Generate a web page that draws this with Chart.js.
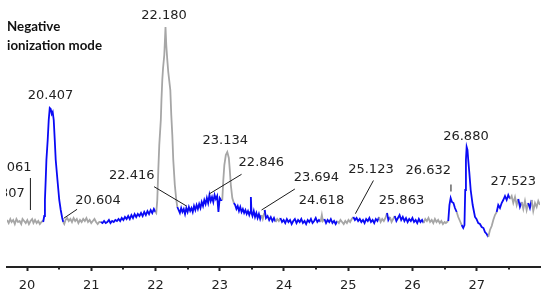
<!DOCTYPE html>
<html><head><meta charset="utf-8">
<script src="https://cdn.jsdelivr.net/npm/chart.js@4"></script>
<style>html,body{margin:0;padding:0;background:#fff;overflow:hidden}</style>
</head><body>
<canvas id="c" width="550" height="297" style="width:550px;height:297px;display:block"></canvas>
<script>
// ---- axis ----
const xRange = [19.6885, 27.986];
const yRange = [-45, 222];
const xTicks = [20, 21, 22, 23, 24, 25, 26, 27];
const xMinorTicks = [20.5, 21.5, 22.5, 23.5, 24.5, 25.5, 26.5, 27.5];

// ---- trace: [retention time (min), intensity] ----
const segA = [[19.69,2],[19.715,-1],[19.74,3],[19.76,0],[19.785,2],[19.81,-2],[19.835,3],[19.86,0],[19.885,1],[19.91,-2],[19.93,3],[19.955,1],[19.98,-1],[20.005,2],[20.03,-2],[20.055,1],[20.08,3],[20.10,-1],[20.125,2],[20.15,-1],[20.175,1],[20.20,-2],[20.225,0],[20.245,1]];
const segPeak1 = [[20.252,0],[20.268,6],[20.279,22],[20.291,42],[20.302,62],[20.322,82],[20.338,102],[20.354,114],[20.369,113],[20.385,108],[20.400,110],[20.416,102],[20.432,82],[20.447,62],[20.474,42],[20.502,22],[20.525,12],[20.548,4],[20.564,0]];
const segB = [[20.58,-2],[20.60,2],[20.625,4],[20.65,1],[20.675,3],[20.70,0],[20.725,4],[20.75,1],[20.775,3],[20.80,-1],[20.825,2],[20.85,0],[20.875,3],[20.90,1],[20.925,4],[20.95,0],[20.975,2],[21.00,-1],[21.025,1],[21.05,3],[21.075,0],[21.10,-2],[21.125,0]];
const segC = [[21.15,0],[21.175,-1],[21.20,1],[21.225,-1],[21.25,0],[21.275,2],[21.30,-1],[21.325,1],[21.35,0],[21.375,2],[21.40,1],[21.425,3],[21.45,1],[21.475,4],[21.50,2],[21.525,5],[21.55,3],[21.575,6],[21.60,3],[21.625,7],[21.65,4],[21.675,8],[21.70,5],[21.725,8],[21.75,6],[21.775,9],[21.80,6],[21.825,10],[21.85,7],[21.875,11],[21.90,8],[21.925,12],[21.95,9],[21.975,13],[22.00,10]];
const segPeak2 = [[22.012,9],[22.028,22],[22.044,52],[22.059,77],[22.083,102],[22.093,122],[22.106,142],[22.118,154],[22.137,167],[22.156,195],[22.168,177],[22.184,162],[22.199,150],[22.231,132],[22.246,107],[22.262,87],[22.277,62],[22.301,37],[22.324,22],[22.340,15]];
const segE = [[22.36,12],[22.38,9],[22.40,14],[22.42,10],[22.44,13],[22.46,8],[22.48,14],[22.50,10],[22.52,15],[22.54,11],[22.56,14],[22.58,10],[22.60,16],[22.62,12],[22.64,17],[22.66,13],[22.68,18],[22.70,14],[22.72,20],[22.74,16],[22.76,22],[22.78,18],[22.80,24],[22.82,19],[22.84,27],[22.86,21],[22.88,25],[22.90,20],[22.92,27],[22.94,23],[22.96,26],[22.98,10],[23.00,24],[23.02,22]];
const segPeak3 = [[23.040,22],[23.056,42],[23.072,57],[23.095,67],[23.118,70],[23.142,64],[23.157,52],[23.173,37],[23.196,24],[23.220,19]];
const segG = [[23.24,17],[23.26,13],[23.28,16],[23.30,11],[23.32,15],[23.34,10],[23.36,13],[23.38,9],[23.40,12],[23.42,8],[23.44,11],[23.46,7],[23.475,10],[23.485,25],[23.495,9],[23.51,6],[23.53,11],[23.55,5],[23.57,9],[23.59,4],[23.61,8],[23.63,3],[23.65,7]];
const segH = [[23.67,3],[23.69,8],[23.70,12],[23.72,4],[23.745,6],[23.77,2],[23.795,5],[23.82,1],[23.845,4],[23.87,0],[23.895,3],[23.92,1],[23.945,4],[23.97,0],[23.995,2],[24.02,-1],[24.045,3],[24.07,0],[24.095,2],[24.12,-2],[24.145,1],[24.17,3],[24.195,-1],[24.22,2],[24.245,0],[24.27,3],[24.295,-1],[24.32,1],[24.345,-2],[24.37,2],[24.395,0],[24.42,3],[24.445,-1],[24.47,1],[24.495,4],[24.52,0],[24.545,2],[24.57,0],[24.59,7],[24.605,1],[24.63,3],[24.655,-1],[24.68,2],[24.705,0],[24.73,3],[24.755,-1],[24.78,1],[24.805,-2],[24.83,1],[24.855,-1],[24.88,2],[24.905,0],[24.93,-2],[24.955,1],[24.98,-1],[25.005,2],[25.03,0],[25.055,3],[25.08,5],[25.105,2],[25.13,4],[25.155,1],[25.18,3],[25.205,0],[25.23,2],[25.255,-1],[25.28,3],[25.305,1],[25.33,4],[25.355,0],[25.38,2],[25.405,-1],[25.43,3],[25.455,1],[25.48,5],[25.505,0],[25.53,3],[25.555,1],[25.58,4],[25.605,9],[25.625,2],[25.65,5],[25.675,0],[25.70,3],[25.725,6],[25.75,1],[25.775,4],[25.80,7],[25.825,2],[25.85,5],[25.875,1],[25.90,4],[25.925,0],[25.95,3],[25.975,1],[26.00,4],[26.025,0],[26.05,2],[26.075,-1],[26.10,3],[26.125,0],[26.15,2],[26.175,-1],[26.20,3],[26.225,1],[26.25,4],[26.275,0],[26.30,2],[26.325,-1],[26.35,3],[26.375,0],[26.40,2],[26.425,-1],[26.45,1],[26.475,-2],[26.50,0],[26.52,-1]];
const segI = [[26.558,1],[26.576,17],[26.595,24],[26.615,20],[26.639,19],[26.662,14],[26.689,10],[26.713,5],[26.740,1],[26.766,-3],[26.791,-6],[26.810,-3],[26.822,32],[26.833,62],[26.844,75],[26.857,72],[26.869,62],[26.885,50],[26.907,32],[26.938,17],[26.974,5],[26.997,3],[27.025,-1],[27.051,-2],[27.078,-5],[27.106,-6],[27.129,-10],[27.156,-12],[27.181,-15],[27.207,-8],[27.234,-4],[27.259,2],[27.285,7],[27.312,10],[27.336,17],[27.363,14],[27.389,19],[27.414,22],[27.441,26],[27.467,22],[27.492,27],[27.519,23],[27.545,26],[27.570,19],[27.597,25],[27.623,17],[27.648,23],[27.674,15],[27.701,20],[27.726,13],[27.752,21],[27.778,12],[27.803,19],[27.829,14],[27.856,22],[27.881,11],[27.908,19],[27.934,15],[27.959,21],[27.986,17]];

// time windows drawn in grey (rest is blue)
const greyRanges = [[19.6,20.25],[20.565,21.14],[22.005,22.345],[23.035,23.225],[23.66,23.70],[23.86,23.95],[24.58,24.62],[24.84,25.07],[25.49,25.60],[25.66,25.72],[26.17,26.55],[26.70,26.76],[27.19,27.32],[27.52,27.66],[27.70,27.80],[27.86,28.1]];

// peak labels: [text, time, intensity (label centre)]
const peakLabels = [["22.180",22.132,207.5],["20.407",20.366,128],["23.134",23.087,83],["22.846",23.648,60.5],["22.416",21.631,48],["20.604",21.106,23],["23.694",24.505,45.5],["24.618",24.583,23],["25.123",25.354,54],["25.863",25.829,23],["26.632",26.246,52.5],["26.880",26.833,86.5],["27.523",27.570,41.5]];
// labels cut by the left edge: [text, right-edge time, intensity]
const clippedLabels = [["061",20.069,56],["307",19.964,29.5]];
// leader lines: [t1, v1, t2, v2]
const leaderLines = [[20.779,12.7,20.572,3.7],[21.978,35.3,22.483,16],[23.340,47.7,22.835,28],[24.170,33,23.651,12],[25.393,41.5,25.112,8.3],[26.600,37.5,26.600,30.5],[20.053,44,20.053,12]];
const titleLines = ["Negative", "ionization mode"];

const BLUE = '#0a0af5', GREY = '#a6a6a6', INK = '#222';
const trace = [].concat(segA, segPeak1, segB, segC, segPeak2, segE, segPeak3, segG, segH, segI).map(p => ({x: p[0], y: p[1]}));
const isGrey = t => greyRanges.some(r => t >= r[0] && t < r[1]);

const annot = {
  id: 'annot',
  afterDatasetsDraw(chart) {
    const ctx = chart.ctx, xs = chart.scales.x, ys = chart.scales.y, ca = chart.chartArea;
    ctx.save();
    // minor ticks
    ctx.strokeStyle = INK; ctx.lineWidth = 2;
    xMinorTicks.forEach(t => {
      const px = Math.round(xs.getPixelForValue(t));
      ctx.beginPath(); ctx.moveTo(px, ca.bottom); ctx.lineTo(px, ca.bottom + 2.5); ctx.stroke();
    });
    // leader lines
    ctx.lineWidth = 1; ctx.strokeStyle = '#1a1a1a';
    leaderLines.forEach(l => {
      ctx.beginPath();
      ctx.moveTo(xs.getPixelForValue(l[0]), ys.getPixelForValue(l[1]));
      ctx.lineTo(xs.getPixelForValue(l[2]), ys.getPixelForValue(l[3]));
      ctx.stroke();
    });
    // peak labels
    ctx.font = '13px "DejaVu Sans"'; ctx.fillStyle = INK;
    ctx.textAlign = 'center'; ctx.textBaseline = 'alphabetic';
    peakLabels.forEach(l => {
      ctx.fillText(l[0], xs.getPixelForValue(l[1]), ys.getPixelForValue(l[2]) + 4.8);
    });
    ctx.save();
    ctx.beginPath(); ctx.rect(ca.left - 1, 0, 200, chart.height); ctx.clip();
    ctx.textAlign = 'right';
    clippedLabels.forEach(l => {
      ctx.fillText(l[0], xs.getPixelForValue(l[1]), ys.getPixelForValue(l[2]) + 4.8);
    });
    ctx.restore();
    // title
    ctx.font = 'bold 13.3px Lato'; ctx.fillStyle = '#111'; ctx.textAlign = 'left';
    titleLines.forEach((s, i) => ctx.fillText(s, ca.left, 31 + i * 18.8));
    ctx.restore();
  }
};

new Chart(document.getElementById('c'), {
  type: 'line',
  data: { datasets: [{
    data: trace,
    borderColor: BLUE,
    borderWidth: 1.8,
    pointRadius: 0,
    tension: 0,
    segment: { borderColor: c => isGrey((c.p0.parsed.x + c.p1.parsed.x) / 2) ? GREY : BLUE }
  }]},
  options: {
    responsive: false, animation: false, devicePixelRatio: 1,
    layout: { padding: { left: 7, right: 10, top: 0, bottom: 0 } },
    plugins: { legend: { display: false }, tooltip: { enabled: false } },
    scales: {
      x: {
        type: 'linear', min: xRange[0], max: xRange[1],
        afterBuildTicks: s => { s.ticks = xTicks.map(v => ({ value: v })); },
        afterFit: s => { s.height = 30; },
        grid: { display: true, drawOnChartArea: false, drawTicks: true, tickLength: 4, tickWidth: 2, tickColor: INK },
        border: { display: true, color: INK, width: 2 },
        ticks: { font: { family: 'DejaVu Sans', size: 13 }, color: INK, padding: 7, maxRotation: 0, callback: v => String(v) }
      },
      y: { display: false, min: yRange[0], max: yRange[1] }
    }
  },
  plugins: [annot]
});
</script>
</body></html>
